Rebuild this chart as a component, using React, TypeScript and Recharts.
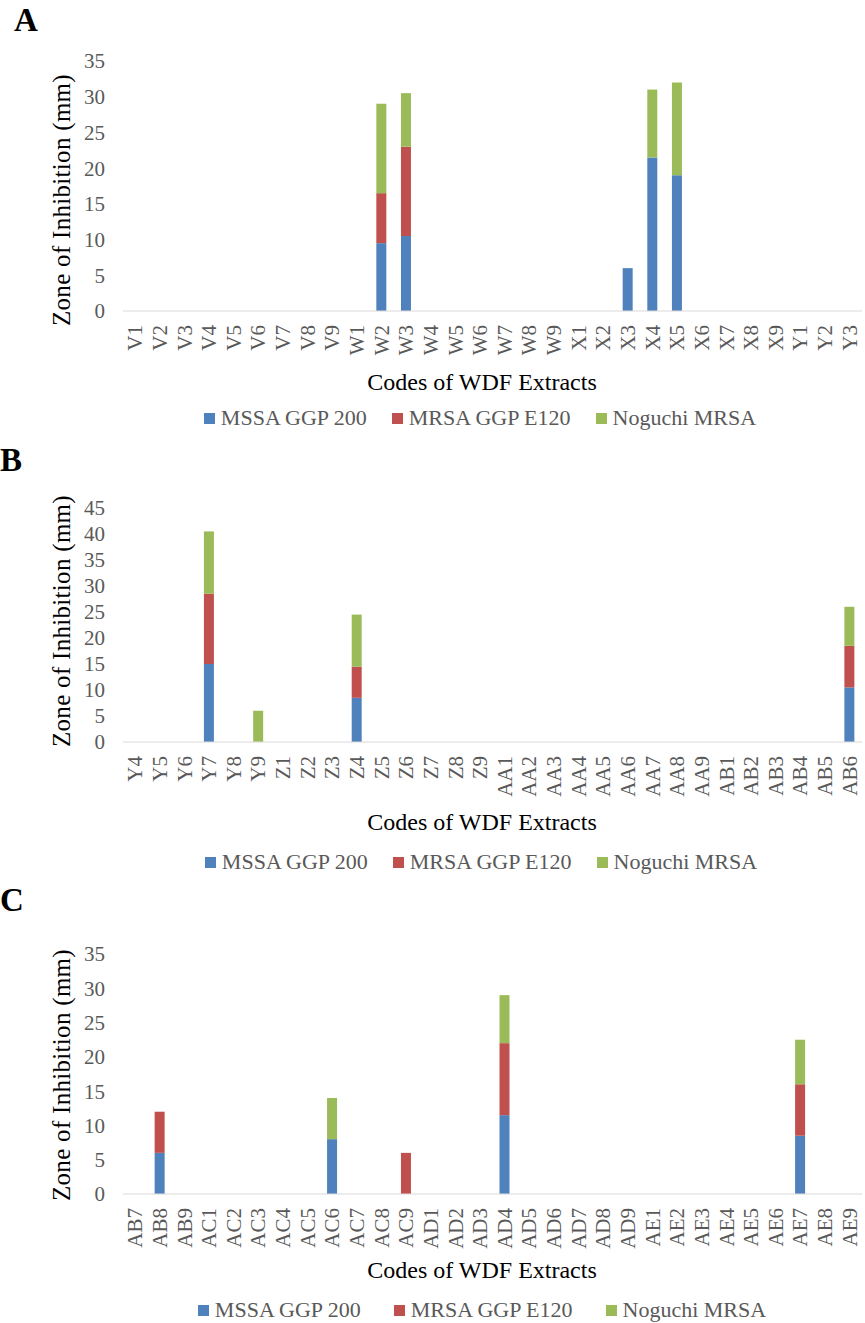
import React from 'react';
import { BarChart, Bar, XAxis, YAxis, Legend } from 'recharts';

const FONT = '"Liberation Serif", "Times New Roman", serif';
const BLUE = '#4f81bd';
const RED = '#c0504d';
const GREEN = '#9bbb59';
const TICK_GREY = '#595959';
const CHART_W = 862;

const SERIES = [
  { key: 'mssa', name: 'MSSA GGP 200', color: BLUE },
  { key: 'mrsa', name: 'MRSA GGP E120', color: RED },
  { key: 'noguchi', name: 'Noguchi MRSA', color: GREEN },
];

// Panel A extracts
const codesA = [
  'V1', 'V2', 'V3', 'V4', 'V5', 'V6', 'V7', 'V8', 'V9',
  'W1', 'W2', 'W3', 'W4', 'W5', 'W6', 'W7', 'W8', 'W9',
  'X1', 'X2', 'X3', 'X4', 'X5', 'X6', 'X7', 'X8', 'X9',
  'Y1', 'Y2', 'Y3',
];
const mssaA = [0, 0, 0, 0, 0, 0, 0, 0, 0, 0, 9.5, 10.5, 0, 0, 0, 0, 0, 0, 0, 0, 6, 21.5, 19, 0, 0, 0, 0, 0, 0, 0];
const mrsaA = [0, 0, 0, 0, 0, 0, 0, 0, 0, 0, 7, 12.5, 0, 0, 0, 0, 0, 0, 0, 0, 0, 0, 0, 0, 0, 0, 0, 0, 0, 0];
const noguchiA = [0, 0, 0, 0, 0, 0, 0, 0, 0, 0, 12.5, 7.5, 0, 0, 0, 0, 0, 0, 0, 0, 0, 9.5, 13, 0, 0, 0, 0, 0, 0, 0];
const ticksA = [0, 5, 10, 15, 20, 25, 30, 35];

// Panel B extracts
const codesB = [
  'Y4', 'Y5', 'Y6', 'Y7', 'Y8', 'Y9',
  'Z1', 'Z2', 'Z3', 'Z4', 'Z5', 'Z6', 'Z7', 'Z8', 'Z9',
  'AA1', 'AA2', 'AA3', 'AA4', 'AA5', 'AA6', 'AA7', 'AA8', 'AA9',
  'AB1', 'AB2', 'AB3', 'AB4', 'AB5', 'AB6',
];
const mssaB = [0, 0, 0, 15, 0, 0, 0, 0, 0, 8.5, 0, 0, 0, 0, 0, 0, 0, 0, 0, 0, 0, 0, 0, 0, 0, 0, 0, 0, 0, 10.5];
const mrsaB = [0, 0, 0, 13.5, 0, 0, 0, 0, 0, 6, 0, 0, 0, 0, 0, 0, 0, 0, 0, 0, 0, 0, 0, 0, 0, 0, 0, 0, 0, 8];
const noguchiB = [0, 0, 0, 12, 0, 6, 0, 0, 0, 10, 0, 0, 0, 0, 0, 0, 0, 0, 0, 0, 0, 0, 0, 0, 0, 0, 0, 0, 0, 7.5];
const ticksB = [0, 5, 10, 15, 20, 25, 30, 35, 40, 45];

// Panel C extracts
const codesC = [
  'AB7', 'AB8', 'AB9',
  'AC1', 'AC2', 'AC3', 'AC4', 'AC5', 'AC6', 'AC7', 'AC8', 'AC9',
  'AD1', 'AD2', 'AD3', 'AD4', 'AD5', 'AD6', 'AD7', 'AD8', 'AD9',
  'AE1', 'AE2', 'AE3', 'AE4', 'AE5', 'AE6', 'AE7', 'AE8', 'AE9',
];
const mssaC = [0, 6, 0, 0, 0, 0, 0, 0, 8, 0, 0, 0, 0, 0, 0, 11.5, 0, 0, 0, 0, 0, 0, 0, 0, 0, 0, 0, 8.5, 0, 0];
const mrsaC = [0, 6, 0, 0, 0, 0, 0, 0, 0, 0, 0, 6, 0, 0, 0, 10.5, 0, 0, 0, 0, 0, 0, 0, 0, 0, 0, 0, 7.5, 0, 0];
const noguchiC = [0, 0, 0, 0, 0, 0, 0, 0, 6, 0, 0, 0, 0, 0, 0, 7, 0, 0, 0, 0, 0, 0, 0, 0, 0, 0, 0, 6.5, 0, 0];
const ticksC = [0, 5, 10, 15, 20, 25, 30, 35];

function buildRows(codes: string[], mssa: number[], mrsa: number[], noguchi: number[]) {
  return codes.map((code, i) => ({ code, mssa: mssa[i], mrsa: mrsa[i], noguchi: noguchi[i] }));
}

function CodeTick(props: any) {
  const { x, y, payload } = props;
  return (
    <text
      x={x}
      y={y}
      transform={`rotate(-90, ${x}, ${y})`}
      textAnchor="end"
      dominantBaseline="central"
      fill={TICK_GREY}
      fontSize={21}
      fontFamily={FONT}
    >
      {payload.value}
    </text>
  );
}

function LegendRow({ gap, center }: { gap: number; center: number }) {
  return (
    <div
      style={{
        height: 30,
        display: 'flex',
        alignItems: 'center',
        justifyContent: 'center',
        paddingLeft: 2 * (center - 432.5),
        boxSizing: 'border-box',
        width: 865,
        fontFamily: FONT,
        fontSize: 22,
        color: TICK_GREY,
        whiteSpace: 'nowrap',
      }}
    >
      {SERIES.map((s, i) => (
        <div key={s.key} style={{ display: 'flex', alignItems: 'center', marginLeft: i === 0 ? 0 : gap }}>
          <span style={{ width: 11, height: 11, background: s.color, marginRight: 6, display: 'inline-block' }} />
          <span>{s.name}</span>
        </div>
      ))}
    </div>
  );
}

interface PanelProps {
  letter: string;
  top: number;
  letterLeft: number;
  height: number;
  marginTop: number;
  xAxisHeight: number;
  titleDy: number;
  yTitleShift: number;
  legendGap: number;
  legendCenter: number;
  rows: any[];
  ticks: number[];
}

function Panel(p: PanelProps) {
  const yMax = p.ticks[p.ticks.length - 1];
  return (
    <div style={{ position: 'absolute', left: 0, top: p.top, width: 865, height: p.height }}>
      <div
        style={{
          position: 'absolute',
          left: p.letterLeft,
          top: 4,
          fontFamily: FONT,
          fontWeight: 'bold',
          fontSize: 33,
          lineHeight: '33px',
          color: '#000',
          zIndex: 2,
        }}
      >
        {p.letter}
      </div>
      <BarChart
        width={CHART_W}
        height={p.height}
        data={p.rows}
        barSize={10}
        margin={{ top: p.marginTop, right: 0, bottom: 0, left: 0 }}
      >
        <XAxis
          dataKey="code"
          interval={0}
          height={p.xAxisHeight}
          tickLine={false}
          tickSize={0}
          tickMargin={14}
          axisLine={{ stroke: '#d9d9d9', strokeWidth: 1 }}
          tick={<CodeTick />}
          label={(lp: any) => (
            <text
              x={482}
              y={lp.viewBox.y + p.titleDy}
              textAnchor="middle"
              fontFamily={FONT}
              fontSize={24}
              fill="#000"
            >
              Codes of WDF Extracts
            </text>
          )}
        />
        <YAxis
          width={123}
          domain={[0, yMax]}
          ticks={p.ticks}
          interval={0}
          axisLine={false}
          tickLine={false}
          tickSize={0}
          tickMargin={18}
          tick={{ fill: TICK_GREY, fontSize: 21, fontFamily: FONT }}
          label={(lp: any) => {
            const cx = 61;
            const cy = lp.viewBox.y + lp.viewBox.height / 2 + p.yTitleShift;
            return (
              <text
                x={cx}
                y={cy}
                transform={`rotate(-90, ${cx}, ${cy})`}
                textAnchor="middle"
                dominantBaseline="central"
                fontFamily={FONT}
                fontSize={25}
                letterSpacing={0.3}
                fill="#000"
              >
                Zone of Inhibition (mm)
              </text>
            );
          }}
        />
        <Legend
          verticalAlign="bottom"
          content={() => <LegendRow gap={p.legendGap} center={p.legendCenter} />}
          wrapperStyle={{ left: 0, width: 865 }}
        />
        {SERIES.map((s) => (
          <Bar key={s.key} dataKey={s.key} name={s.name} stackId="zone" fill={s.color} isAnimationActive={false} />
        ))}
      </BarChart>
    </div>
  );
}

export default function App() {
  return (
    <div
      style={{
        position: 'absolute',
        left: 0,
        top: 0,
        width: 865,
        height: 1323,
        overflow: 'hidden',
        background: '#fff',
      }}
    >
      <Panel
        letter="A"
        top={0}
        letterLeft={14}
        height={433}
        marginTop={61}
        xAxisHeight={92}
        titleDy={79}
        yTitleShift={14}
        legendGap={25}
        legendCenter={480}
        rows={buildRows(codesA, mssaA, mrsaA, noguchiA)}
        ticks={ticksA}
      />
      <Panel
        letter="B"
        top={440}
        letterLeft={0}
        height={437}
        marginTop={68}
        xAxisHeight={105}
        titleDy={88}
        yTitleShift={-4}
        legendGap={25}
        legendCenter={481}
        rows={buildRows(codesB, mssaB, mrsaB, noguchiB)}
        ticks={ticksB}
      />
      <Panel
        letter="C"
        top={880}
        letterLeft={0}
        height={445}
        marginTop={74}
        xAxisHeight={101}
        titleDy={84}
        yTitleShift={1}
        legendGap={33}
        legendCenter={482}
        rows={buildRows(codesC, mssaC, mrsaC, noguchiC)}
        ticks={ticksC}
      />
    </div>
  );
}
